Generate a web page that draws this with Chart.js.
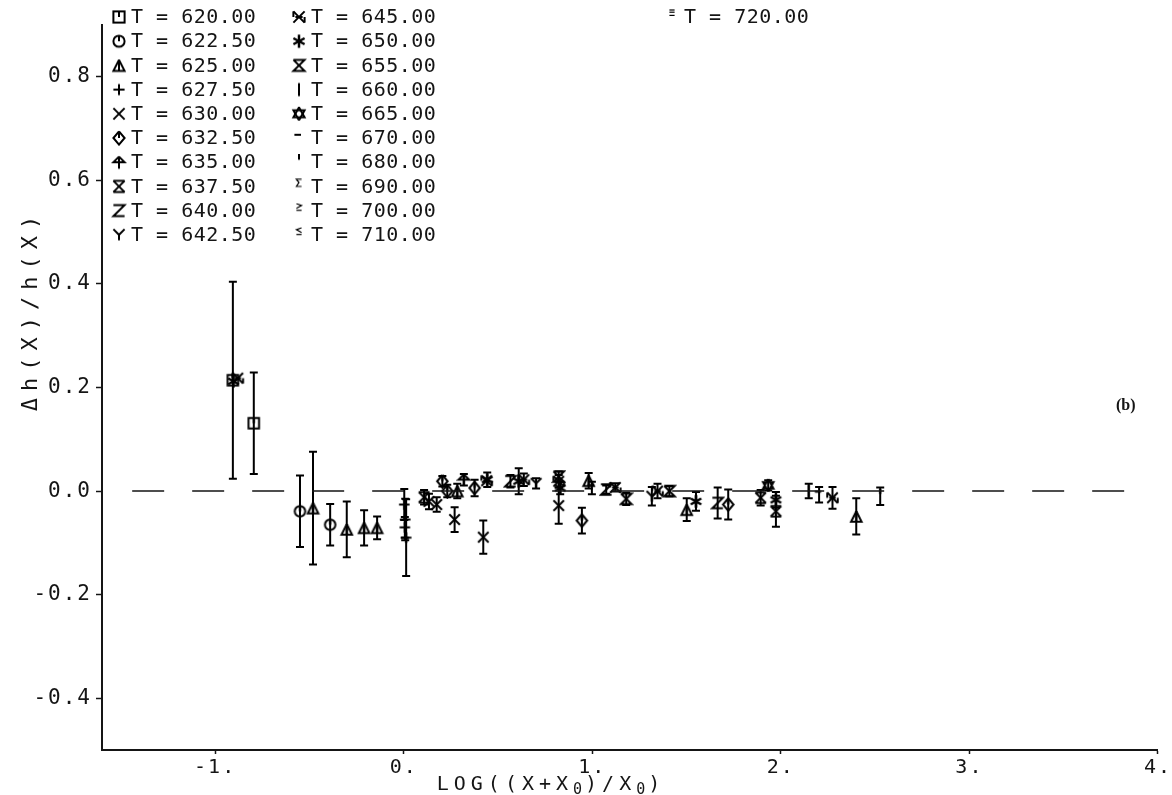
<!DOCTYPE html>
<html>
<head>
<meta charset="utf-8">
<script src="https://cdn.jsdelivr.net/npm/chart.js@4.4.1/dist/chart.umd.min.js"></script>
<style>
  html, body { margin: 0; padding: 0; background: #fff; }
  #wrap { width: 1172px; height: 795px; position: relative; }
</style>
</head>
<body>
<div id="wrap"><canvas id="chart" width="1172" height="795"></canvas></div>
<script>
// series (temperatures) and the glyph each one uses
const temps = ['620.00', '622.50', '625.00', '627.50', '630.00', '632.50', '635.00', '637.50', '640.00', '642.50',
               '645.00', '650.00', '655.00', '660.00', '665.00', '670.00', '680.00', '690.00', '700.00', '710.00',
               '720.00'];
const glyphKinds = ['sq', 'circ', 'tri', 'plus', 'x', 'dia', 'arrow', 'hgx', 'z', 'y',
                    'boxx', 'ast', 'hg', 'ibar', 'david', 'dash', 'tick', 'sigma', 'ge', 'le',
                    'equiv'];

// measured points: series index, x, y, error (half height of bar)
const ptSeries = [0, 10, 11, 0, 1, 2, 1, 2, 2, 2,
                  3, 3, 3, 3, 7, 4, 4, 5, 5, 2,
                  4, 6, 5, 4, 11, 10, 8, 11, 10, 9,
                  12, 10, 11, 4, 5, 2, 15, 8, 10, 12,
                  9, 10, 12, 2, 11, 8, 5, 7, 14, 11,
                  7, 13, 15, 10, 2, 16];
const ptX = [-0.906, -0.88, -0.903, -0.795, -0.55, -0.481, -0.39, -0.302, -0.21, -0.141,
             0.003, 0.008, 0.013, 0.006, 0.108, 0.134, 0.175, 0.205, 0.231, 0.284,
             0.27, 0.319, 0.376, 0.422, 0.443, 0.44, 0.566, 0.61, 0.637, 0.702,
             0.822, 0.822, 0.83, 0.822, 0.945, 0.981, 0.998, 1.074, 1.122, 1.18,
             1.316, 1.346, 1.409, 1.501, 1.55, 1.665, 1.721, 1.893, 1.933, 1.974,
             1.974, 2.148, 2.203, 2.274, 2.40, 2.527];
const ptY = [0.214, 0.218, 0.212, 0.131, -0.039, -0.033, -0.065, -0.074, -0.071, -0.071,
             -0.026, -0.055, -0.09, -0.07, -0.012, -0.02, -0.026, 0.019, 0.0, 0.0,
             -0.055, 0.022, 0.006, -0.089, 0.022, 0.02, 0.019, 0.019, 0.022, 0.015,
             0.028, 0.019, 0.006, -0.028, -0.057, 0.02, 0.006, 0.003, 0.007, -0.015,
             -0.01, 0.0, 0.0, -0.036, -0.02, -0.023, -0.026, -0.013, 0.011, -0.017,
             -0.039, 0.0, -0.007, -0.013, -0.049, -0.01];
const ptErr = [0.19, 0, 0, 0.098, 0.069, 0.109, 0.04, 0.054, 0.034, 0.022,
               0.03, 0.04, 0.074, 0.02, 0.014, 0.015, 0.014, 0.01, 0.012, 0.014,
               0.024, 0.011, 0.016, 0.032, 0.014, 0, 0.012, 0.025, 0.012, 0.01,
               0.01, 0.012, 0.012, 0.035, 0.025, 0.015, 0.012, 0.008, 0.008, 0.012,
               0.018, 0.014, 0.01, 0.022, 0.018, 0.03, 0.029, 0.015, 0.01, 0.015,
               0.03, 0.014, 0.015, 0.021, 0.035, 0.017];

// dashed reference line at zero
const zeroLineX = [-1.44, 3.83];
const zeroLineY = [0, 0];

const xTicks = [-1, 0, 1, 2, 3, 4];
const xTickLabels = ['-1.', '0.', '1.', '2.', '3.', '4.'];
const yTicks = [-0.4, -0.2, 0, 0.2, 0.4, 0.6, 0.8];
const yTickLabels = ['-0.4', '-0.2', '0.0', '0.2', '0.4', '0.6', '0.8'];
// x title pieces: [text, isSubscript]
const xTitleParts = [['LOG((X+X', 0], ['0', 1], [')/X', 0], ['0', 1], [')', 0]];
const yTitle = 'Δh(X)/h(X)';
const panelTag = '(b)';

const INK = '#151515';
const MARK = '#000';
const MONO = '"DejaVu Sans Mono", monospace';

function makeGlyph(kind, s) {
    const c = document.createElement('canvas');
    c.width = s; c.height = s;
    const g = c.getContext('2d');
    g.strokeStyle = MARK; g.fillStyle = MARK; g.lineWidth = 2;
    const a = s * 0.15, b = s * 0.85, m = s / 2;
    const L = (...p) => {
        g.beginPath(); g.moveTo(p[0], p[1]);
        for (let i = 2; i < p.length; i += 2) g.lineTo(p[i], p[i + 1]);
        g.stroke();
    };
    switch (kind) {
        case 'sq': g.strokeRect(a, a, b - a, b - a); L(m, a, m, m); break;
        case 'circ': g.beginPath(); g.arc(m, m, (b - a) / 2, 0, Math.PI * 2); g.stroke(); L(m, a, m, m); break;
        case 'tri': L(m, a, b, b, a, b, m, a); L(m, a, m, b); break;
        case 'plus': L(m, a, m, b); L(a, m, b, m); break;
        case 'x': L(a, a, b, b); L(b, a, a, b); break;
        case 'dia': L(m, a - 1, b, m, m, b + 1, a, m, m, a - 1); L(m, a, m, m); break;
        case 'arrow': L(m, a, b, m, a, m, m, a); L(m, a, m, b + 1); break;
        case 'hgx': L(a, a, b, b); L(b, a, a, b); L(a, a, b, a); L(a, b, b, b); break;
        case 'z': L(a, a, b, a, a, b, b, b); break;
        case 'y': L(a, a, m, m, b, a); L(m, m, m, b); break;
        case 'boxx': L(a, a, b, b); L(b, a, a, b); L(a, a, a, m); L(b, m, b, b); L(a + 2, m, b - 2, m); break;
        case 'ast': g.lineWidth = 2.5; L(m, a - 1, m, b + 1); L(a, m - 3, b, m + 3); L(b, m - 3, a, m + 3); break;
        case 'hg': L(a, a, b, a, a, b, b, b, a, a); break;
        case 'ibar': L(m, a - 1, m, b + 1); break;
        case 'david': L(m, a - 1, b, b - 2, a, b - 2, m, a - 1); L(m, b + 1, b, a + 2, a, a + 2, m, b + 1); break;
        case 'dash': L(a + 1, s * 0.3, m + 2, s * 0.3); break;
        case 'tick': L(m, 0, m, s * 0.35); break;
        case 'sigma': g.lineWidth = 1.2; L(b - 3, 1, a + 3, 1, m, s * 0.25, a + 3, s * 0.5, b - 3, s * 0.5); break;
        case 'ge': g.lineWidth = 1.2; L(a + 3, 1, b - 3, s * 0.18, a + 3, s * 0.36); L(a + 3, s * 0.48, b - 3, s * 0.48); break;
        case 'le': g.lineWidth = 1.2; L(b - 3, 1, a + 3, s * 0.18, b - 3, s * 0.36); L(a + 3, s * 0.48, b - 3, s * 0.48); break;
        case 'equiv': g.lineWidth = 1.2; L(a + 3, 1, b - 3, 1); L(a + 3, s * 0.2, b - 3, s * 0.2); L(a + 3, s * 0.4, b - 3, s * 0.4); break;
    }
    return c;
}

const glyphs = glyphKinds.map(k => makeGlyph(k, 15));
const legendGlyphs = glyphKinds.map(k => makeGlyph(k, 16));

const datasets = temps.map((t, si) => ({
    type: 'scatter',
    label: 'T = ' + t,
    data: ptX.map((x, i) => ({ x: x, y: ptY[i] })).filter((p, i) => ptSeries[i] === si),
    pointStyle: glyphs[si],
    pointRadius: 6,
    showLine: false
}));

datasets.unshift({
    type: 'line',
    label: 'zero',
    data: zeroLineX.map((x, i) => ({ x: x, y: zeroLineY[i] })),
    borderColor: INK,
    borderWidth: 1.6,
    borderDash: [32, 28],
    pointRadius: 0,
    fill: false
});

const decorPlugin = {
    id: 'decor',
    beforeDraw(chart) {
        chart.ctx.letterSpacing = '2px';
    },
    beforeDatasetsDraw(chart) {
        const ctx = chart.ctx, xs = chart.scales.x, ys = chart.scales.y;
        ctx.save();
        ctx.strokeStyle = MARK;
        ctx.lineWidth = 2;
        ptX.forEach((x, i) => {
            const e = ptErr[i];
            if (!e) return;
            const px = xs.getPixelForValue(x);
            const top = ys.getPixelForValue(ptY[i] + e);
            const bot = ys.getPixelForValue(ptY[i] - e);
            ctx.beginPath();
            ctx.moveTo(px, top); ctx.lineTo(px, bot);
            ctx.moveTo(px - 4, top); ctx.lineTo(px + 4, top);
            ctx.moveTo(px - 4, bot); ctx.lineTo(px + 4, bot);
            ctx.stroke();
        });
        ctx.restore();
    },
    afterDraw(chart) {
        const ctx = chart.ctx;
        ctx.save();
        ctx.fillStyle = INK;

        // legend block, three columns
        ctx.font = '20px ' + MONO;
        ctx.letterSpacing = '0.5px';
        ctx.textAlign = 'left';
        ctx.textBaseline = 'middle';
        const colX = [131, 311, 684];
        temps.forEach((t, i) => {
            const col = Math.floor(i / 10), row = i % 10;
            const y = 17 + row * 24.2;
            ctx.drawImage(legendGlyphs[i], colX[col] - 20, y - 8);
            ctx.fillText('T = ' + t, colX[col], y + 1);
        });

        // y title
        ctx.save();
        ctx.translate(31, 310);
        ctx.rotate(-Math.PI / 2);
        ctx.font = '22px ' + MONO;
        ctx.letterSpacing = '7px';
        ctx.textAlign = 'center';
        ctx.fillText(yTitle, 0, 0);
        ctx.restore();

        // x title with subscripts
        ctx.textAlign = 'left';
        ctx.textBaseline = 'alphabetic';
        const mainFont = '20px ' + MONO, subFont = '15px ' + MONO;
        const spacing = sub => (sub ? '3px' : '5px');
        let w = 0;
        xTitleParts.forEach(([s, sub]) => {
            ctx.font = sub ? subFont : mainFont;
            ctx.letterSpacing = spacing(sub);
            w += ctx.measureText(s).width;
        });
        let tx = 551 - w / 2;
        xTitleParts.forEach(([s, sub]) => {
            ctx.font = sub ? subFont : mainFont;
            ctx.letterSpacing = spacing(sub);
            ctx.fillText(s, tx, sub ? 794 : 790);
            tx += ctx.measureText(s).width;
        });

        // panel tag
        ctx.font = 'bold 16px "Liberation Serif", serif';
        ctx.letterSpacing = '0px';
        ctx.textBaseline = 'middle';
        ctx.fillText(panelTag, 1116, 406);
        ctx.restore();
    }
};

new Chart(document.getElementById('chart'), {
    data: { datasets: datasets },
    options: {
        responsive: false,
        animation: false,
        layout: { padding: { top: 25, right: 12, left: 0, bottom: 0 } },
        plugins: { legend: { display: false }, tooltip: { enabled: false } },
        scales: {
            x: {
                type: 'linear',
                min: -1.6,
                max: 4,
                afterBuildTicks: s => { s.ticks = xTicks.map(v => ({ value: v })); },
                afterFit: s => { s.height = 45; },
                ticks: {
                    color: INK,
                    font: { family: MONO, size: 20 },
                    padding: 2,
                    maxRotation: 0,
                    callback: (v, i) => xTickLabels[i]
                },
                grid: { drawOnChartArea: false, drawTicks: true, tickLength: 4, tickColor: INK, tickWidth: 1.5 },
                border: { display: true, color: INK, width: 2 }
            },
            y: {
                type: 'linear',
                min: -0.5,
                max: 0.9,
                afterBuildTicks: s => { s.ticks = yTicks.map(v => ({ value: v })); },
                afterFit: s => { s.width = 102; },
                ticks: {
                    color: INK,
                    font: { family: MONO, size: 21 },
                    padding: 4,
                    callback: (v, i) => yTickLabels[i]
                },
                grid: { drawOnChartArea: false, drawTicks: true, tickLength: 6, tickColor: INK, tickWidth: 1.5 },
                border: { display: true, color: INK, width: 2 }
            }
        }
    },
    plugins: [decorPlugin]
});
</script>
</body>
</html>
